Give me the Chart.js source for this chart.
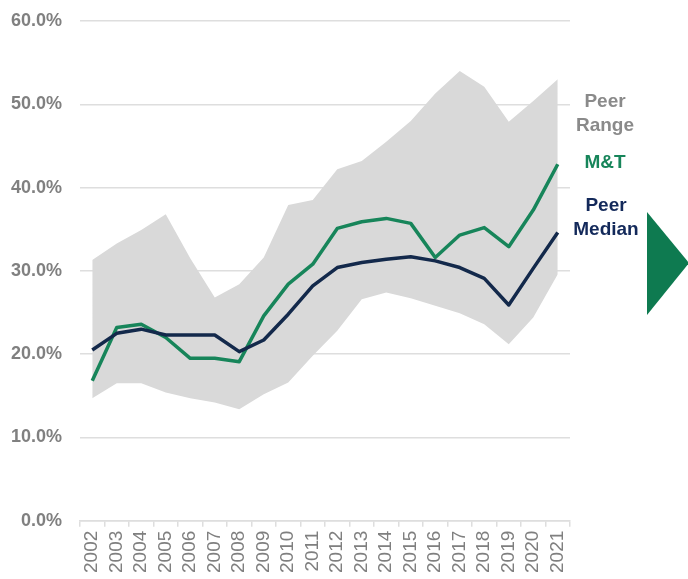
<!DOCTYPE html>
<html>
<head>
<meta charset="utf-8">
<script src="https://cdn.jsdelivr.net/npm/chart.js@4.4.1/dist/chart.umd.min.js"></script>
<style>
  html, body { margin: 0; padding: 0; background: #ffffff; }
  #wrap { position: relative; width: 688px; height: 579px; overflow: hidden; }
  #c { position: absolute; left: 0; top: 0; }
  .lbl { position: absolute; font-family: "Liberation Sans", Arial, sans-serif; font-weight: bold; font-size: 19px; text-align: center; line-height: 24px; width: 90px; }
  #tri { position: absolute; left: 647px; top: 212px; width: 0; height: 0;
         border-top: 51px solid transparent; border-bottom: 52px solid transparent; border-left: 42px solid #0e7a50; }
</style>
</head>
<body>
<div id="wrap">
  <canvas id="c" width="688" height="579"></canvas>
  <div class="lbl" style="left:560px; top:89px; color:#8a8a8a;">Peer<br>Range</div>
  <div class="lbl" style="left:560px; top:150px; color:#17855a;">M&amp;T</div>
  <div class="lbl" style="left:561px; top:193px; color:#13295a;">Peer<br>Median</div>
  <div id="tri"></div>
</div>
<script>
const years = ["2002","2003","2004","2005","2006","2007","2008","2009","2010","2011",
               "2012","2013","2014","2015","2016","2017","2018","2019","2020","2021"];
const peerHigh = [31.3, 33.3, 34.9, 36.8, 31.5, 26.8, 28.4, 31.6, 37.9, 38.5,
                  42.2, 43.2, 45.5, 48.0, 51.3, 54.0, 52.1, 47.9, 50.4, 53.0];
const peerLow  = [14.7, 16.5, 16.5, 15.4, 14.7, 14.2, 13.4, 15.2, 16.6, 19.8,
                  22.8, 26.6, 27.4, 26.7, 25.8, 24.9, 23.6, 21.2, 24.4, 29.6];
const mtValues = [16.8, 23.2, 23.6, 22.0, 19.5, 19.5, 19.1, 24.6, 28.4, 30.8,
                  35.1, 35.9, 36.3, 35.7, 31.6, 34.3, 35.2, 32.9, 37.3, 42.8];
const peerMedian = [20.5, 22.5, 23.0, 22.3, 22.3, 22.3, 20.3, 21.7, 24.8, 28.2,
                    30.4, 31.0, 31.4, 31.7, 31.2, 30.4, 29.1, 25.9, 30.3, 34.6];
const yTicks = [0, 10, 20, 30, 40, 50, 60];

const GRID = "#dedede";
new Chart(document.getElementById("c"), {
  type: "line",
  data: {
    labels: years,
    datasets: [
      { label: "Peer Low", data: peerLow, borderWidth: 0, pointRadius: 0, fill: false, order: 10, tension: 0 },
      { label: "Peer Range", data: peerHigh, borderWidth: 0, pointRadius: 0, fill: "-1",
        backgroundColor: "#d9d9d9", order: 9, tension: 0 },
      { label: "M&T", data: mtValues, borderColor: "#17855a", borderWidth: 3.5, pointRadius: 0,
        fill: false, order: 2, tension: 0, borderJoinStyle: "round" },
      { label: "Peer Median", data: peerMedian, borderColor: "#13294b", borderWidth: 3.5, pointRadius: 0,
        fill: false, order: 1, tension: 0, borderJoinStyle: "round" }
    ]
  },
  options: {
    responsive: false,
    animation: false,
    layout: { padding: { left: 8, right: 118, top: 21, bottom: 2 } },
    plugins: { legend: { display: false }, tooltip: { enabled: false } },
    scales: {
      x: {
        offset: true,
        grid: { display: true, drawOnChartArea: false, drawTicks: true, tickLength: 6, offset: true, color: GRID, lineWidth: 1.5 },
        border: { display: true, color: GRID, width: 1.5 },
        ticks: { minRotation: 90, maxRotation: 90, autoSkip: false, padding: 4, color: "#7f7f7f",
                 font: { family: "'Liberation Sans', Arial, sans-serif", size: 19 } }
      },
      y: {
        min: 0, max: 60,
        afterBuildTicks: (axis) => { axis.ticks = yTicks.map(v => ({ value: v })); },
        afterFit: (axis) => { axis.width = 72; axis.paddingTop = 0; axis.paddingBottom = 0; },
        grid: { color: GRID, lineWidth: 1.5, drawTicks: false },
        border: { display: false },
        ticks: { padding: 18, color: "#808080",
                 font: { family: "'Liberation Sans', Arial, sans-serif", size: 18, weight: "bold" },
                 callback: (v) => v.toFixed(1) + "%" }
      }
    }
  }
});
</script>
</body>
</html>
